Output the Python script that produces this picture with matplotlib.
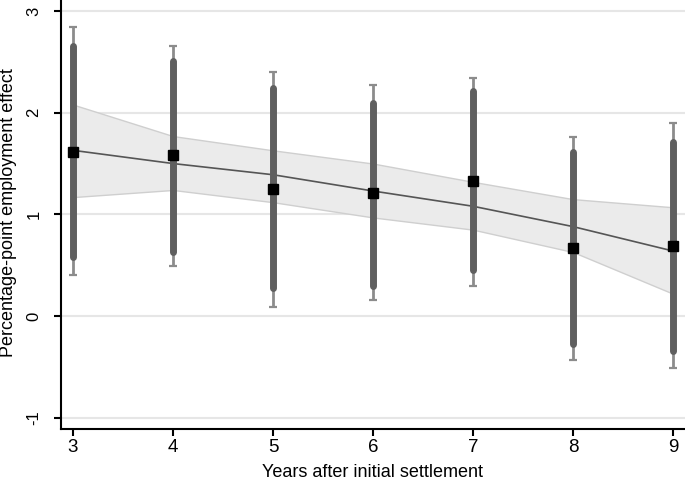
import numpy as np
import matplotlib.pyplot as plt

plt.rcParams['font.family'] = ['Liberation Sans', 'DejaVu Sans']
plt.rcParams['axes.unicode_minus'] = False

years = [3, 4, 5, 6, 7, 8, 9]
effect = [1.61, 1.58, 1.25, 1.21, 1.33, 0.67, 0.69]
ci90_lo = [0.58, 0.63, 0.28, 0.30, 0.45, -0.27, -0.34]
ci90_hi = [2.66, 2.51, 2.24, 2.10, 2.21, 1.61, 1.71]
ci95_lo = [0.40, 0.49, 0.09, 0.16, 0.30, -0.43, -0.51]
ci95_hi = [2.84, 2.66, 2.40, 2.27, 2.34, 1.76, 1.90]
fit = [1.63, 1.50, 1.39, 1.23, 1.08, 0.88, 0.64]
fit_lo = [1.17, 1.24, 1.12, 0.97, 0.85, 0.63, 0.22]
fit_hi = [2.08, 1.77, 1.63, 1.50, 1.32, 1.15, 1.07]

fig = plt.figure(figsize=(6.85, 4.82), dpi=100)
ax = fig.add_axes([0.089, 0.110, 0.911, 0.890])

for y in [-1, 0, 1, 2, 3]:
    ax.axhline(y, color='#e6e6e6', lw=1.5, zorder=0)

ax.fill_between(years, fit_lo, fit_hi, color='#ebebeb', edgecolor='#cfcfcf', lw=1, zorder=1)
ax.plot(years, fit, color='#555555', lw=1.2, zorder=2)

ax.errorbar(years, effect, yerr=[np.subtract(effect, ci95_lo), np.subtract(ci95_hi, effect)],
            fmt='none', ecolor='#8c8c8c', elinewidth=2, capsize=3, capthick=1.6, zorder=3)
ax.vlines(years, ci90_lo, ci90_hi, color='#5f5f5f', lw=5, capstyle='round', zorder=4)
ax.plot(years, effect, 's', color='black', ms=7.5, zorder=5)

ax.set_xlim(2.88, 9.12)
ax.set_ylim(-1.11, 3.108)
ax.set_xticks(years)
ax.set_yticks([-1, 0, 1, 2, 3])
ax.tick_params(length=5, width=1.5, color='black')
ax.tick_params(axis='x', labelsize=13.5, pad=2)
ax.tick_params(axis='y', labelsize=12, pad=9)
plt.setp(ax.get_yticklabels(), rotation=90, va='center')
for s in ['top', 'right']:
    ax.spines[s].set_visible(False)
for s in ['left', 'bottom']:
    ax.spines[s].set_linewidth(1.5)

ax.set_xlabel('Years after initial settlement', fontsize=13)
ax.set_ylabel('Percentage-point employment effect', fontsize=13)
ax.xaxis.set_label_coords(0.499, -0.081)
ax.yaxis.set_label_coords(-0.071, 0.505)

plt.savefig('out.png', dpi=100)
